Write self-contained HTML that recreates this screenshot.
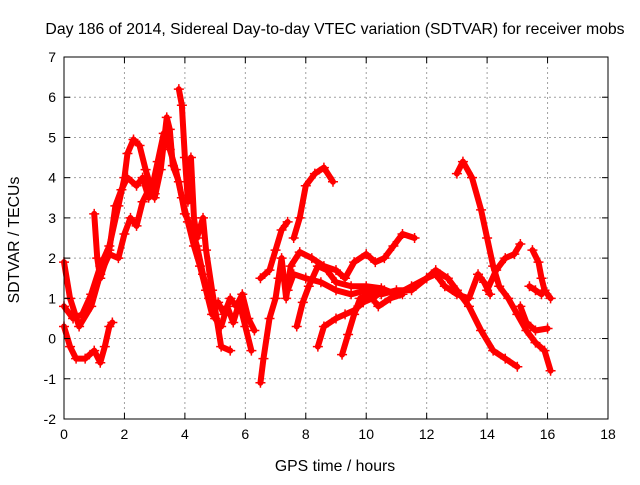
<!DOCTYPE html>
<html><head><meta charset="utf-8"><style>
body{margin:0;background:#fff;}
svg text{font-family:"Liberation Sans",sans-serif;font-size:14px;fill:#000;}
svg text.big{font-size:15.8px;}
</style></head><body>
<svg id="chart" width="640" height="480">
<text class="big" x="335" y="34" text-anchor="middle">Day 186 of 2014, Sidereal Day-to-day VTEC variation (SDTVAR) for receiver mobs</text>
<text class="big" x="335" y="471" text-anchor="middle">GPS time / hours</text>
<text class="big" transform="translate(19,240) rotate(-90)" text-anchor="middle">SDTVAR / TECUs</text>
<g id="grid"></g><g id="series"></g><g id="axes"></g>
</svg>
<script>
const xTicks=[0,2,4,6,8,10,12,14,16,18];
const yTicks=[-2,-1,0,1,2,3,4,5,6,7];
const traceA=[[0,0.3],[0.2,-0.2],[0.4,-0.5],[0.7,-0.5],[1.0,-0.3],[1.2,-0.6],[1.35,-0.2],[1.5,0.3],[1.6,0.4]];
const traceB=[[0,0.8],[0.3,0.5],[0.6,0.6],[0.9,1.1],[1.2,1.8],[1.5,2.3],[1.8,3.3],[2.0,4.0],[2.1,4.6],[2.3,4.95],[2.5,4.8],[2.7,4.2],[2.9,3.7],[3.1,4.4],[3.3,5.1],[3.5,4.7],[3.7,4.2],[3.9,3.5],[4.1,2.9],[4.3,2.3],[4.5,1.8],[4.7,1.2],[4.9,0.6],[5.1,0.9],[5.3,0.6],[5.5,1.0],[5.7,0.8],[5.9,1.1],[6.1,0.5],[6.3,0.2]];
const traceC=[[0,1.9],[0.2,1.0],[0.5,0.3],[0.9,0.8],[1.2,1.6],[1.5,2.1],[1.8,2.0],[2.0,2.6],[2.2,3.0],[2.4,2.8],[2.6,3.4],[2.8,3.7],[3.0,3.5],[3.2,4.2],[3.4,5.5],[3.5,5.2],[3.6,4.3],[3.8,3.9],[4.0,3.1],[4.2,2.8],[4.4,2.3],[4.6,1.6],[4.8,1.0],[5.0,0.5],[5.2,0.3],[5.4,0.8],[5.6,0.4],[5.8,0.9],[6.0,0.3],[6.2,-0.3]];
const traceD=[[1.0,3.1],[1.1,2.0],[1.2,1.5],[1.5,2.2],[1.7,3.3],[1.9,3.7],[2.1,4.0],[2.4,3.8],[2.6,4.0],[2.8,3.5],[3.0,3.6]];
const traceE=[[3.8,6.2],[3.9,5.8],[4.0,4.5],[4.1,3.4],[4.2,4.5],[4.3,3.0],[4.4,2.5],[4.6,3.0],[4.7,2.2],[4.9,1.2],[5.2,-0.2],[5.5,-0.3]];
const traceF=[[6.5,-1.1],[6.6,-0.5],[6.8,0.5],[7.0,1.0],[7.1,1.5],[7.2,2.0],[7.35,1.0],[7.5,1.8],[7.8,2.15],[8.2,2.0],[8.6,1.8],[9.0,1.7],[9.3,1.5],[9.6,1.9],[10.0,2.1],[10.3,1.9],[10.6,2.0],[10.9,2.3],[11.2,2.6],[11.6,2.5]];
const traceG=[[6.5,1.5],[6.8,1.7],[7.0,2.2],[7.2,2.7],[7.4,2.9]];
const traceH=[[7.6,2.5],[7.8,3.0],[8.0,3.8],[8.3,4.1],[8.6,4.25],[8.9,3.9]];
const traceI=[[7.4,1.2],[7.6,1.6],[8.0,1.5],[8.5,1.4],[9.0,1.2],[9.5,1.1],[10,1.2],[10.5,1.1],[11,1.2],[11.5,1.2],[12,1.5],[12.3,1.7],[12.7,1.5],[13.0,1.2],[13.4,0.8],[13.8,0.2],[14.2,-0.3],[14.6,-0.5],[15.0,-0.7]];
const traceJ=[[7.7,0.3],[7.9,0.9],[8.1,1.3],[8.4,1.8],[8.7,1.7],[9.0,1.4],[9.5,1.3],[10,1.3],[10.5,1.25],[11,1.1],[11.5,1.3],[12,1.5],[12.3,1.6],[12.6,1.3],[13,1.1],[13.4,1.0],[13.7,1.6],[13.9,1.4],[14.1,1.1]];
const traceK=[[8.4,-0.2],[8.6,0.3],[9.0,0.5],[9.3,0.6],[9.6,0.7],[9.9,0.9],[10.2,1.0],[10.6,1.2]];
const traceL=[[9.2,-0.4],[9.4,0.1],[9.6,0.6],[9.8,1.0],[10.1,1.1],[10.4,0.8],[10.8,1.0],[11.2,1.1]];
const traceM=[[13.0,4.1],[13.2,4.4],[13.5,4.0],[13.8,3.2],[14.0,2.5],[14.2,1.8],[14.4,1.3],[14.7,1.0],[15.0,0.6],[15.3,0.2],[15.6,-0.1],[15.9,-0.3],[16.1,-0.8]];
const traceN=[[14.0,1.2],[14.3,1.7],[14.6,2.0],[14.9,2.1],[15.1,2.35]];
const traceO=[[15.1,0.8],[15.3,0.4],[15.6,0.2],[16.0,0.25]];
const traceP=[[15.5,2.2],[15.7,1.9],[15.8,1.5],[15.9,1.2],[16.1,1.0]];
const traceQ=[[15.4,1.3],[15.6,1.2],[15.8,1.1]];
const traces=[traceA,traceB,traceC,traceD,traceE,traceF,traceG,traceH,traceI,traceJ,traceK,traceL,traceM,traceN,traceO,traceP,traceQ];

const L=64,R=608,T=57,B=419;
const sx=v=>L+(v-0)/(18-0)*(R-L);
const sy=v=>B-(v-(-2))/(7-(-2))*(B-T);
const NS="http://www.w3.org/2000/svg";
function mk(tag,attrs,parent){const e=document.createElementNS(NS,tag);for(const k in attrs)e.setAttribute(k,attrs[k]);parent.appendChild(e);return e;}
const grid=document.getElementById('grid'),axes=document.getElementById('axes'),ser=document.getElementById('series');
xTicks.forEach(t=>{
  if(t>0&&t<18){const g=mk('line',{x1:sx(t),x2:sx(t),y1:T,y2:B,stroke:'#a0a0a0','stroke-dasharray':'2,3'},grid);
  
  }
  mk('line',{x1:sx(t),x2:sx(t),y1:B,y2:B-6,stroke:'#000'},axes);
  mk('line',{x1:sx(t),x2:sx(t),y1:T,y2:T+6,stroke:'#000'},axes);
  const tx=mk('text',{x:sx(t),y:B+20,'text-anchor':'middle'},axes);tx.textContent=t;
  
  
});
yTicks.forEach(t=>{
  if(t>-2&&t<7){const g=mk('line',{x1:L,x2:R,y1:sy(t),y2:sy(t),stroke:'#a0a0a0','stroke-dasharray':'2,3'},grid);
  
  }
  mk('line',{x1:L,x2:L+6,y1:sy(t),y2:sy(t),stroke:'#000'},axes);
  mk('line',{x1:R,x2:R-6,y1:sy(t),y2:sy(t),stroke:'#000'},axes);
  const tx=mk('text',{x:L-8,y:sy(t)+5,'text-anchor':'end'},axes);tx.textContent=t;
  
  
});
const frame=mk('rect',{x:L,y:T,width:R-L,height:B-T,fill:'none',stroke:'#000'},axes);


traces.forEach(tr=>{
  const p=mk('polyline',{points:tr.map(d=>sx(d[0])+','+sy(d[1])).join(' '),fill:'none',stroke:'#ff0000','stroke-width':6,'stroke-linejoin':'round','stroke-linecap':'round'},ser);
  
  
  tr.forEach(d=>{
    const m=mk('path',{d:`M${sx(d[0])-5},${sy(d[1])}h10M${sx(d[0])},${sy(d[1])-5}v10`,stroke:'#ff0000','stroke-width':1.5},ser);
    
    
  });
});
</script>
</body></html>
